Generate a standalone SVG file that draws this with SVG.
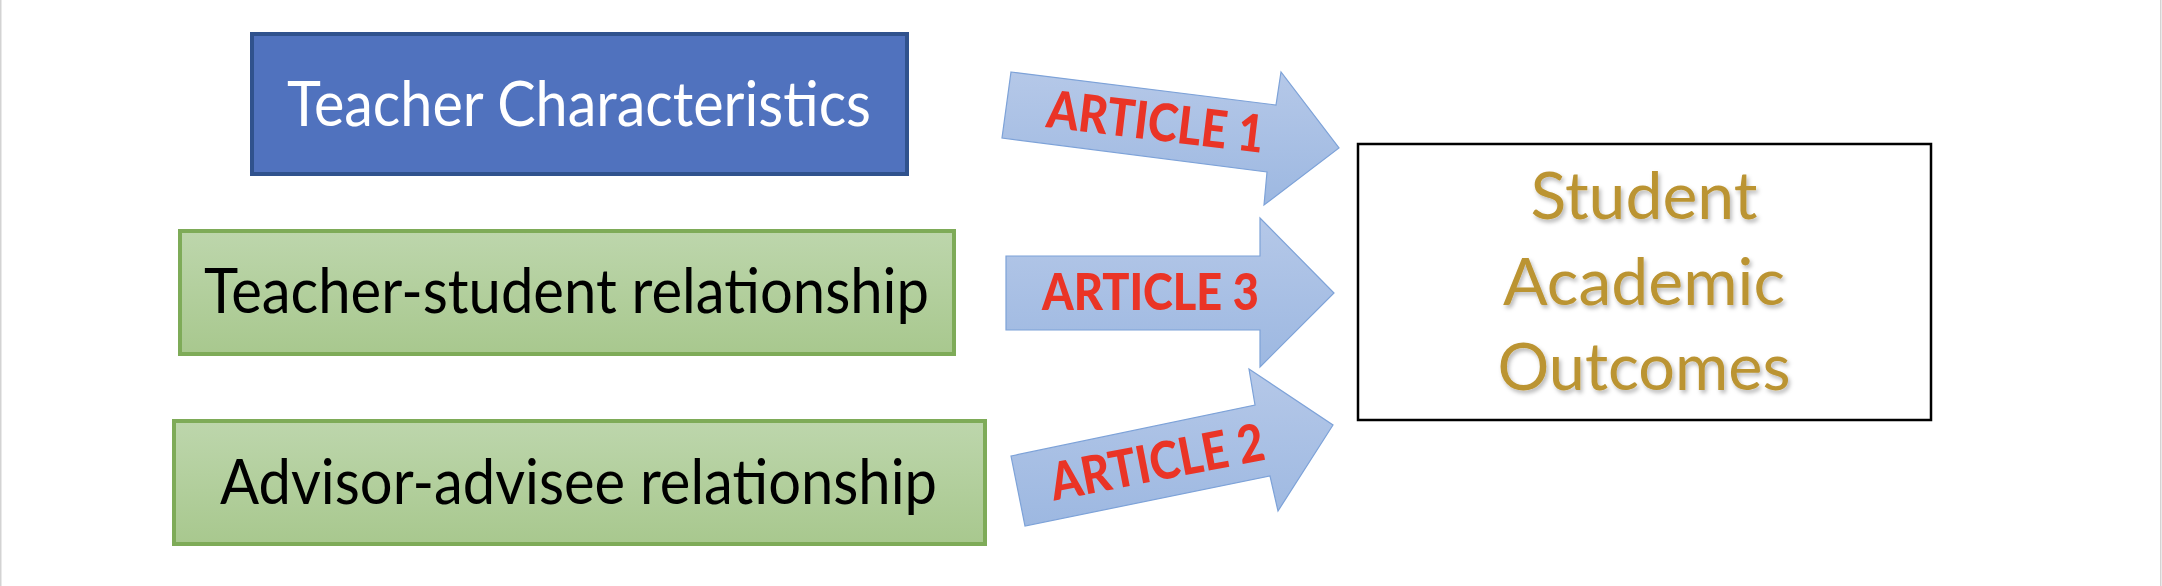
<svg xmlns="http://www.w3.org/2000/svg" width="2162" height="586" viewBox="0 0 2162 586">
  <style>
    .lbl { font-family: Lato, "Open Sans", "Liberation Sans", sans-serif; font-size: 62px; text-anchor: middle; }
    .art { font-family: Lato, "Open Sans", "Liberation Sans", sans-serif; font-weight: 900; font-size: 52px; fill: #EA3426; text-anchor: middle; }
    .gold { font-family: Lato, "Open Sans", "Liberation Sans", sans-serif; font-size: 66px; fill: #BB9433; text-anchor: middle; }
    .arrow { fill: url(#blueGrad); stroke: #7DA2D8; stroke-width: 1.2; stroke-linejoin: miter; }
    .green { fill: url(#greenGrad); stroke: #7EAB58; stroke-width: 4; }
  </style>
  <defs>
    <linearGradient id="blueGrad" x1="0" y1="0" x2="0" y2="1">
      <stop offset="0" stop-color="#B5C8E8"/>
      <stop offset="1" stop-color="#9DB8E1"/>
    </linearGradient>
    <linearGradient id="greenGrad" x1="0" y1="0" x2="0" y2="1">
      <stop offset="0" stop-color="#BDD6AC"/>
      <stop offset="1" stop-color="#A8C88E"/>
    </linearGradient>
    <filter id="shadow" x="-10%" y="-10%" width="130%" height="140%">
      <feDropShadow dx="2" dy="3" stdDeviation="2" flood-color="#000" flood-opacity="0.28"/>
    </filter>
  </defs>

  <rect x="0" y="0" width="2162" height="586" fill="#FFFFFF"/>
  <line x1="0.75" y1="0" x2="0.75" y2="586" stroke="#D3D3D3" stroke-width="1.5"/>
  <line x1="2160.75" y1="0" x2="2160.75" y2="586" stroke="#D3D3D3" stroke-width="1.5"/>

  <g id="node-teacher-characteristics">
    <rect x="252" y="34" width="655" height="140" fill="#5072BE" stroke="#30528D" stroke-width="4"/>
    <text class="lbl" x="579" y="126" fill="#FFFFFF" textLength="584" lengthAdjust="spacingAndGlyphs">Teacher Characteristics</text>
  </g>

  <g id="node-teacher-student">
    <rect class="green" x="180" y="231" width="774" height="123"/>
    <text class="lbl" x="566.5" y="313" fill="#000000" textLength="725" lengthAdjust="spacingAndGlyphs">Teacher-student relationship</text>
  </g>

  <g id="node-advisor-advisee">
    <rect class="green" x="174" y="421" width="811" height="123"/>
    <text class="lbl" x="578.5" y="504" fill="#000000" textLength="717" lengthAdjust="spacingAndGlyphs">Advisor-advisee relationship</text>
  </g>

  <g id="node-student-outcomes">
    <rect x="1358" y="144" width="573" height="276" fill="#FFFFFF" stroke="#000000" stroke-width="2.5"/>
    <g filter="url(#shadow)">
      <text class="gold" x="1644" y="219" textLength="227" lengthAdjust="spacingAndGlyphs">Student</text>
      <text class="gold" x="1644" y="305" textLength="282" lengthAdjust="spacingAndGlyphs">Academic</text>
      <text class="gold" x="1644" y="390" textLength="293" lengthAdjust="spacingAndGlyphs">Outcomes</text>
    </g>
  </g>

  <g id="connectors">
    <g id="arrow-article-1">
      <polygon class="arrow" points="1011,72 1276,105 1281,72 1339,148 1264,205 1267,172 1002,138"/>
      <text class="art" transform="translate(1153.5,140) rotate(6.8)" x="0" y="0" textLength="218" lengthAdjust="spacingAndGlyphs">ARTICLE 1</text>
    </g>
    <g id="arrow-article-3">
      <polygon class="arrow" points="1006,256 1260,256 1260,218 1334,293 1260,367 1260,330 1006,330"/>
      <text class="art" x="1150.5" y="310" textLength="217" lengthAdjust="spacingAndGlyphs">ARTICLE 3</text>
    </g>
    <g id="arrow-article-2">
      <polygon class="arrow" points="1011,456 1255,405 1249,369 1333,425 1278,511 1270,476 1025,526"/>
      <text class="art" transform="translate(1160.5,480) rotate(-11)" x="0" y="0" textLength="217" lengthAdjust="spacingAndGlyphs">ARTICLE 2</text>
    </g>
  </g>
</svg>
